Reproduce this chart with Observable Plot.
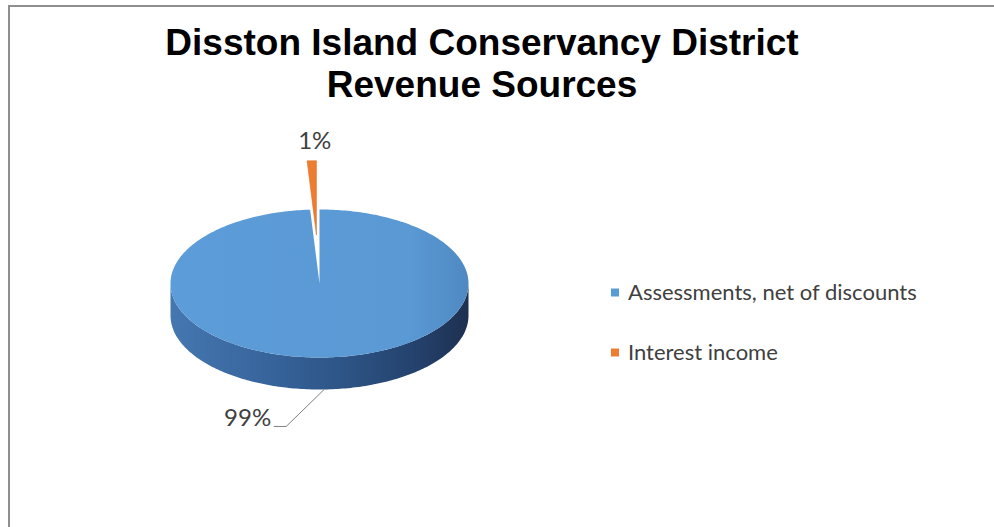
<!DOCTYPE html>
<html><head><meta charset="utf-8">
<script src="https://cdn.jsdelivr.net/npm/d3@7"></script>
<script src="https://cdn.jsdelivr.net/npm/@observablehq/plot@0.6"></script>
<style>
html,body{margin:0;padding:0;background:#fff;overflow:hidden;}
#page{position:relative;width:994px;height:527px;overflow:hidden;background:#fff;}
#title{position:absolute;left:0;top:0;width:964px;height:110px;box-sizing:border-box;padding-top:22px;text-align:center;font-family:"Liberation Sans",Arial,sans-serif;font-weight:bold;font-size:37px;line-height:42px;color:#000;}
#title span{display:inline-block;}
#chart{position:absolute;left:0;top:110px;width:994px;height:417px;}
#frame-top{position:absolute;left:8px;top:5px;width:986px;height:2px;background:#8f8f8f;pointer-events:none;}
#frame-left{position:absolute;left:8px;top:5px;width:2px;height:522px;background:#8f8f8f;pointer-events:none;}
</style></head><body>
<div id="page">
  <div id="title"><span>Disston Island Conservancy District</span><br><span>Revenue Sources</span></div>
  <div id="chart"></div>
  <div id="frame-top"></div><div id="frame-left"></div>
</div>
<script>
// ---- data ----
const categories = ["Assessments, net of discounts", "Interest income"];
const shares = [99, 1];
const sliceColors = ["#5b9bd5", "#ed7d31"];
const sliceLabels = ["99%", "1%"];
const explodedSlices = [false, true];

// ---- layout (page pixel coordinates) ----
const cx = 319, cy = 283, rx = 149, ry = 74, depth = 32, explode = 0.66;
const TOP = 110, W = 994, H = 417;

const total = d3.sum(shares);
let acc = 0;
const slices = categories.map((c, i) => {
  const a0 = acc / total * 2 * Math.PI; acc += shares[i];
  const a1 = acc / total * 2 * Math.PI;
  const mid = (a0 + a1) / 2;
  const e = explodedSlices[i] ? explode : 0;
  return {i, category: c, a0, a1, mid, color: sliceColors[i], label: sliceLabels[i],
          ox: e * rx * Math.sin(mid), oy: -e * ry * Math.cos(mid)};
});
const rim = (a, ox, oy, h) => ({x: cx + ox + rx * Math.sin(a), y: cy + oy - ry * Math.cos(a) + h});
function arcPts(a0, a1, ox, oy, h) {
  const n = Math.max(2, Math.ceil(Math.abs(a1 - a0) / (Math.PI / 180)));
  return d3.range(n + 1).map(k => rim(a0 + (a1 - a0) * k / n, ox, oy, h));
}
function topFace(s) {
  const c = {x: cx + s.ox, y: cy + s.oy};
  return [c, ...arcPts(s.a0, s.a1, s.ox, s.oy, 0), c];
}
function sideFace(s) {
  const s0 = Math.max(s.a0, Math.PI / 2), s1 = Math.min(s.a1, 3 * Math.PI / 2);
  if (s1 <= s0) return [];
  return [...arcPts(s0, s1, s.ox, s.oy, 0), ...arcPts(s1, s0, s.ox, s.oy, depth)];
}

// labels
const main = slices[0], small = slices[1];
const p0 = rim(main.mid, main.ox, main.oy, depth);
const elbow = {x: p0.x - 38, y: p0.y + 37};
const leaderEnd = {x: elbow.x - 12, y: elbow.y};
const leader = [p0, elbow, leaderEnd];
const pSmall = rim(small.mid, small.ox, small.oy, 0);
const mainLabel = [{x: leaderEnd.x - 3, y: leaderEnd.y, text: main.label}];
const smallLabel = [{x: pSmall.x + 3, y: pSmall.y - 12, text: small.label}];

// legend
const legendX = 614.5, legendY0 = 292, legendStep = 60;
const legendData = categories.map((c, i) => ({c, color: sliceColors[i], y: legendY0 + i * legendStep}));

const defs = () => {
  const g = document.createElementNS("http://www.w3.org/2000/svg", "defs");
  g.innerHTML = `
  <linearGradient id="sideGrad" x1="0" x2="1" y1="0" y2="0">
    <stop offset="0" stop-color="#4677b0"/>
    <stop offset="0.35" stop-color="#36639a"/>
    <stop offset="0.6" stop-color="#2c5384"/>
    <stop offset="0.85" stop-color="#233f69"/>
    <stop offset="1" stop-color="#1e3050"/>
  </linearGradient>
  <linearGradient id="topGrad" x1="0" x2="1" y1="0" y2="0">
    <stop offset="0" stop-color="#5c9cd8"/>
    <stop offset="0.8" stop-color="#5a99d4"/>
    <stop offset="1" stop-color="#4f89c3"/>
  </linearGradient>`;
  return g;
};

const labelFont = {fontSize: 24, fontFamily: "Lato, sans-serif", fill: "#404040", lineAnchor: "bottom", ariaLabel: "slice-labels"};
const marks = [defs];
marks.push(Plot.line(topFace(small), {x: "x", y: "y", fill: small.color, stroke: "#d9691f", strokeWidth: 0.5}));
marks.push(Plot.line(sideFace(main), {x: "x", y: "y", fill: "url(#sideGrad)", stroke: "none"}));
marks.push(Plot.line(topFace(main), {x: "x", y: "y", fill: "url(#topGrad)", stroke: "none"}));
marks.push(Plot.line(leader, {x: "x", y: "y", stroke: "#7f7f7f", strokeWidth: 1}));
marks.push(Plot.text(mainLabel, {x: "x", y: "y", text: "text", textAnchor: "end", ...labelFont}));
marks.push(Plot.text(smallLabel, {x: "x", y: "y", text: "text", textAnchor: "middle", ...labelFont}));
marks.push(Plot.dot(legendData, {x: () => legendX, y: "y", symbol: "square", r: 4.5, fill: "color", stroke: "none"}));
marks.push(Plot.text(legendData, {x: () => legendX + 13, y: "y", text: "c", textAnchor: "start",
  fontSize: 22, fontFamily: "Lato, sans-serif", fill: "#404040", ariaLabel: "legend-text"}));

const chart = Plot.plot({
  width: W, height: H, margin: 0,
  x: {domain: [0, W], range: [0, W], axis: null},
  y: {domain: [TOP, TOP + H], range: [0, H], axis: null},
  color: {type: "identity"},
  style: {background: "none", overflow: "visible"},
  marks
});
document.getElementById("chart").appendChild(chart);

// horizontal stretch of text about its own anchor, to match the reference's proportions
function stretch(sel, s) {
  d3.select(chart).selectAll(sel).each(function() {
    const x = +this.getAttribute("x") || 0, y = +this.getAttribute("y") || 0;
    const t = this.getAttribute("transform") || "";
    this.setAttribute("transform", `${t} translate(${x},${y}) scale(${s},1) translate(${-x},${-y})`);
  });
}
stretch('g[aria-label="legend-text"] text', 1.2);
stretch('g[aria-label="slice-labels"] text', 1.05);
</script>
</body></html>
